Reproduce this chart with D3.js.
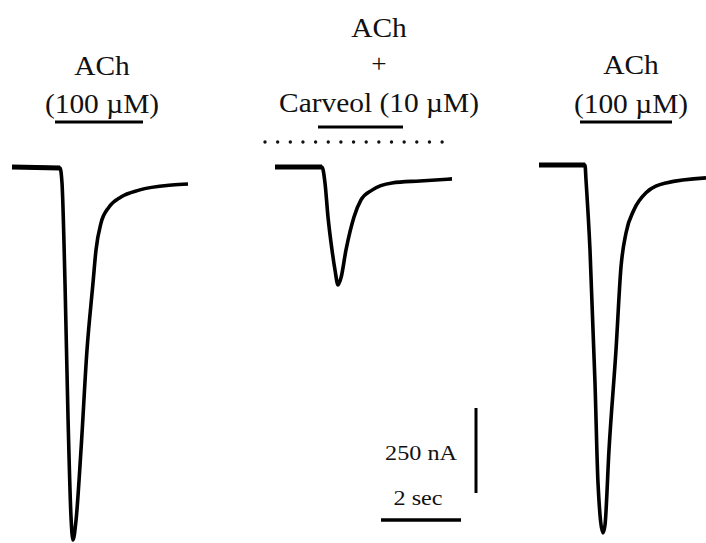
<!DOCTYPE html>
<html>
<head>
<meta charset="utf-8">
<script src="https://cdn.jsdelivr.net/npm/d3@7"></script>
<style>
  body { margin: 0; background: #fff; }
  svg text { font-family: "Liberation Serif", "Times New Roman", serif; fill: #111; }
</style>
</head>
<body>
<svg id="chart" width="706" height="543"></svg>
<script>
// time (s, from start of each sweep) and current (nA)
const trace1T = [0, 1.2, 1.25, 1.325, 1.4, 1.475, 1.525, 1.6, 1.725, 1.875, 2.025, 2.1, 2.225, 2.425, 2.725, 3.175, 4.0, 4.4];
const trace1I = [0, -3, -47, -341, -735, -1029, -1097, -1040, -832, -538, -341, -244, -165, -118, -88, -68, -53, -50];

const trace2T = [0, 1.175, 1.25, 1.325, 1.425, 1.5, 1.575, 1.65, 1.775, 1.975, 2.15, 2.425, 2.925, 3.625, 4.425];
const trace2I = [0, 0, -47, -147, -244, -303, -347, -326, -244, -147, -97, -68, -47, -41, -35];

const trace3T = [0, 1.15, 1.175, 1.275, 1.4, 1.475, 1.6, 1.65, 1.75, 1.925, 2.05, 2.175, 2.375, 2.675, 3.175, 4.175];
const trace3I = [6, 6, -38, -244, -635, -929, -1076, -1053, -832, -538, -294, -194, -126, -76, -47, -32];

const sweepStart = [0, 6.575, 13.175];          // s, position of each sweep on the time axis
const achBar = [[1.075, 3.275], [1.075, 3.2], [1.025, 3.325]]; // ACh application, s
const carveolPre = [-0.25, 4.2];                 // Carveol pre-application (dotted), s

const labelLines = [
  ["ACh", "(100 µM)"],
  ["ACh", "+", "Carveol (10 µM)"],
  ["ACh", "(100 µM)"]
];
const scaleCurrent = 250; // nA
const scaleTime = 2;      // s

const svg = d3.select("#chart");

const x = d3.scaleLinear().domain([0, 1]).range([12, 52]);       // 40 px per second
const y = d3.scaleLinear().domain([0, -1000]).range([167, 507]);  // 0.34 px per nA

const traces = [
  d3.zip(trace1T, trace1I),
  d3.zip(trace2T, trace2I),
  d3.zip(trace3T, trace3I)
];

const line = d3.line().curve(d3.curveMonotoneX);

traces.forEach((pts, i) => {
  svg.append("path")
    .attr("d", line(pts.map(d => [x(sweepStart[i] + d[0]), y(d[1])])))
    .attr("fill", "none")
    .attr("stroke", "#000")
    .attr("stroke-width", 3.6)
    .attr("stroke-linejoin", "round");
  // noisier, thicker baseline segment
  svg.append("line")
    .attr("x1", x(sweepStart[i] + pts[0][0])).attr("x2", x(sweepStart[i] + pts[1][0]))
    .attr("y1", y(pts[0][1])).attr("y2", y(pts[1][1]))
    .attr("stroke", "#000").attr("stroke-width", 5);
});

// application bars
achBar.forEach((b, i) => {
  svg.append("line")
    .attr("x1", x(sweepStart[i] + b[0])).attr("x2", x(sweepStart[i] + b[1]))
    .attr("y1", i === 1 ? 127 : 122).attr("y2", i === 1 ? 127 : 122)
    .attr("stroke", "#000").attr("stroke-width", 3);
});

svg.append("line")
  .attr("x1", x(sweepStart[1] + carveolPre[0])).attr("x2", x(sweepStart[1] + carveolPre[1]))
  .attr("y1", 142).attr("y2", 142)
  .attr("stroke", "#111").attr("stroke-width", 3.4)
  .attr("stroke-linecap", "round")
  .attr("stroke-dasharray", "0.01 12.64");

// labels
function label(txt, cx, base, size, sx) {
  svg.append("text")
    .attr("transform", `translate(${cx},${base}) scale(${sx},1)`)
    .attr("text-anchor", "middle")
    .attr("font-size", size)
    .text(txt);
}

const labelX = [102, 379, 631];
const labelY = [[75, 113], [37, 72, 112], [74, 113]];
labelLines.forEach((lines, i) => {
  lines.forEach((t, j) => label(t, labelX[i], labelY[i][j], t === "+" ? 25 : 27, 1.09));
});

// scale bars
const sbX = 476, sbY = 493;
svg.append("line")
  .attr("x1", sbX).attr("x2", sbX)
  .attr("y1", sbY).attr("y2", sbY - Math.abs(y(-scaleCurrent) - y(0)))
  .attr("stroke", "#000").attr("stroke-width", 3);
svg.append("line")
  .attr("x1", 381).attr("x2", 381 + (x(scaleTime) - x(0)))
  .attr("y1", 520).attr("y2", 520)
  .attr("stroke", "#000").attr("stroke-width", 3.5);

label(scaleCurrent + " nA", 421, 460, 22, 1.1);
label(scaleTime + " sec", 418, 505, 22, 1.1);
</script>
</body>
</html>
